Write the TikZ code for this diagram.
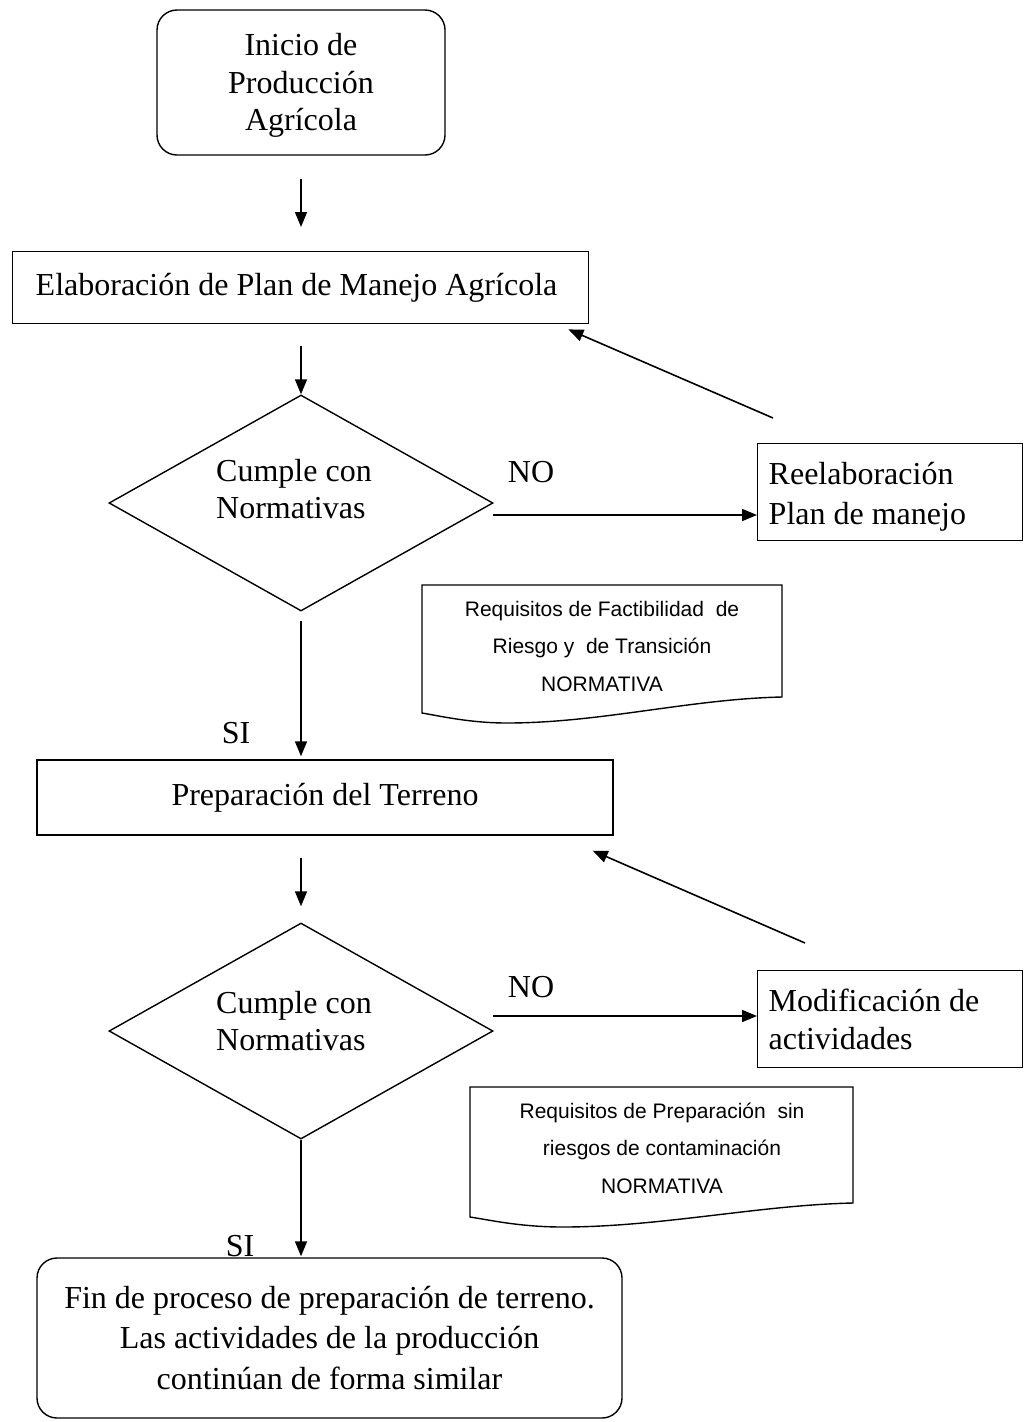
\documentclass[tikz,border=0pt]{standalone}
\usepackage{fontspec}
\setmainfont{Liberation Serif}
\newfontfamily\arialf{Liberation Sans}
\usetikzlibrary{arrows.meta,shapes.geometric}
\begin{document}
\begin{tikzpicture}[x=1pt,y=-1pt,
  every node/.style={font=\fontsize{32}{37.5}\selectfont, inner sep=0pt},
  box/.style={draw, rectangle, line width=1.4pt},
  rbox/.style={draw, rectangle, rounded corners=20pt, line width=1.4pt},
  dec/.style={draw, diamond, shape aspect=1.78, minimum width=384pt, minimum height=216pt, line width=1.4pt},
  arr/.style={-{Triangle[length=15pt,width=12pt]}, line width=1.6pt},
  docshape/.style={line width=1.4pt},
  doctext/.style={font=\arialf\fontsize{21}{37.5}\selectfont, align=center},
]
\useasboundingbox (0,0) rectangle (1027,1422);

% start
\node[rbox, minimum width=288pt, minimum height=145pt, align=center] (start) at (301,82.5) {\rule{0pt}{28pt}Inicio de\\Producción\\Agrícola};

% elaboration
\node[box, anchor=north west, minimum width=576pt, minimum height=72pt, text width=555pt, inner xsep=10.5pt, align=flush left] (elab) at (12,251) {\hspace*{12.5pt}Elaboración de Plan de Manejo Agrícola};

\draw[arr, shorten <=23pt, shorten >=24pt] (start.south) -- (start.south |- elab.north);

% decision 1
\node[dec] (d1) at (301,503) {};
\node[align=left] (d1t) at (294,489) {Cumple con\\Normativas};
\draw[arr, shorten <=22pt] (start.south |- elab.south) -- (d1.north);

% reelaboracion
\node[box, anchor=north west, minimum width=265pt, minimum height=97pt, text width=243pt, inner xsep=11pt, align=flush left, font=\fontsize{32}{40}\selectfont] (reel) at (757,443) {\rule{0pt}{31pt}Reelaboración\\Plan de manejo};
\coordinate (no1) at (493,515);
\draw[arr] (no1) -- (no1 -| reel.west);
\node (no1l) at (531,472) {NO};
\coordinate (b1s) at (773,418);
\draw[arr] (b1s) -- ([shift={(-21pt,-5pt)}]elab.south east);

% document 1
\draw[docshape] (422,585) -- (782,585) -- (782,697) .. controls (690,699) and (600,723) .. (507,723) .. controls (470,723) and (440,716) .. (422,713) -- cycle;
\node[doctext] (doc1) at (602,646) {Requisitos de Factibilidad\ \ de\\Riesgo y\ \ de Transición\\NORMATIVA};

% preparacion
\node[box, minimum width=576pt, minimum height=75pt] (prep) at (325,797.5) {Preparación del Terreno};
\draw[arr, shorten <=9pt, shorten >=3pt] (d1.south) -- (d1.south |- prep.north);
\node (si1) at (236,733) {SI};

% decision 2
\node[dec] (d2) at (301,1031) {};
\node[align=left] (d2t) at (294,1021) {Cumple con\\Normativas};
\draw[arr, shorten <=22pt] (d1.south |- prep.south) -- ([yshift=16pt]d2.north);

% modificacion
\node[box, anchor=north west, minimum width=265pt, minimum height=97pt, text width=243pt, inner xsep=11pt, align=flush left] (modif) at (757,970) {Modificación de\\actividades};
\coordinate (no2) at (493,1016);
\draw[arr] (no2) -- (no2 -| modif.west);
\node (no2l) at (531,987) {NO};
\coordinate (b2s) at (805,943);
\draw[arr] (b2s) -- ([shift={(-21pt,-15pt)}]prep.south east);

% document 2
\draw[docshape] (470,1087) -- (853,1087) -- (853,1203) .. controls (760,1205) and (660,1227) .. (563,1227) .. controls (520,1227) and (490,1220) .. (470,1217) -- cycle;
\node[doctext] (doc2) at (662,1148) {Requisitos de Preparación\ \ sin\\riesgos de contaminación\\NORMATIVA};

% fin
\node[rbox, minimum width=585pt, minimum height=160pt, align=center, font=\fontsize{32}{40.5}\selectfont] (fin) at (329.5,1338) {Fin de proceso de preparación de terreno.\\Las actividades de la producción\\continúan de forma similar};
\draw[arr, shorten <=0pt, shorten >=1pt] (d2.south) -- (d2.south |- fin.north);
\node (si2) at (240,1246) {SI};
\end{tikzpicture}
\end{document}
